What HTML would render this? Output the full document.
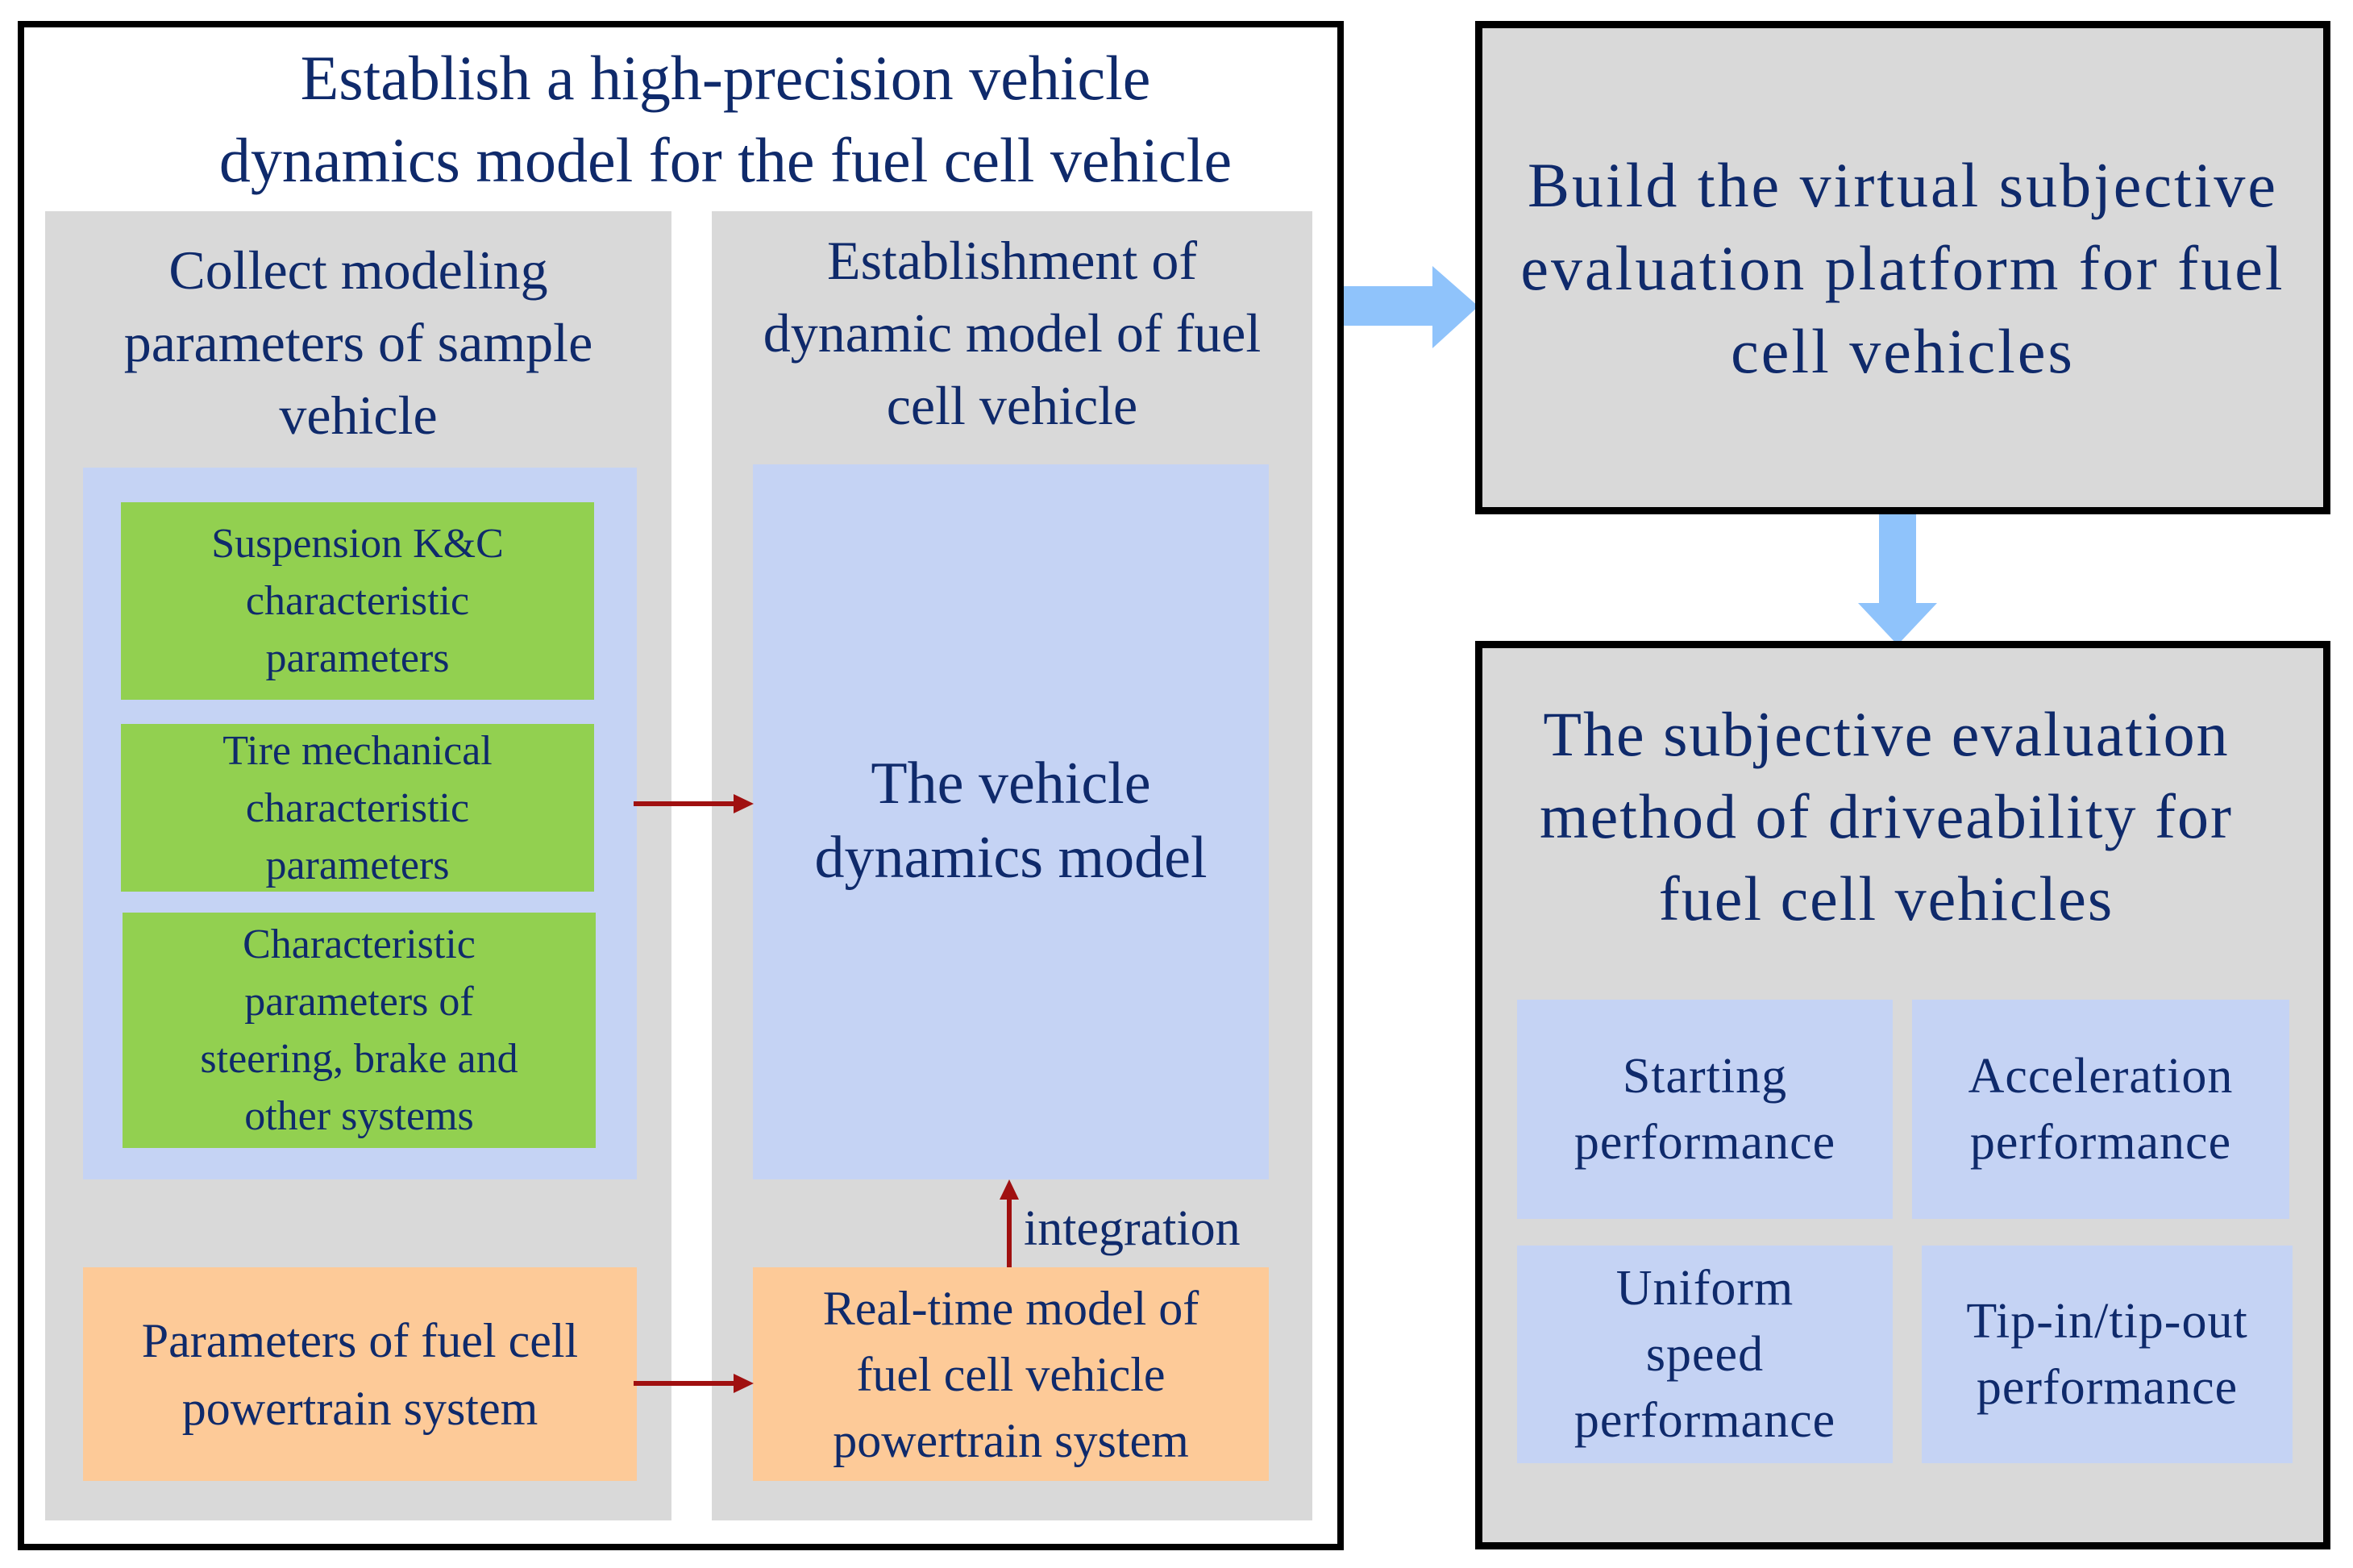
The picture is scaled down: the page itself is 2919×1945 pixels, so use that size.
<!DOCTYPE html>
<html><head><meta charset="utf-8"><style>
body{margin:0;width:2919px;height:1945px;background:#fff;position:relative;overflow:hidden;font-family:"Liberation Serif",serif;color:#0f2a6b}
.a{position:absolute;box-sizing:border-box}
.c{display:flex;align-items:center;justify-content:center;text-align:center}
.g{background:#d9d9d9}
.b{background:#c5d3f4}
.gr{background:#92d050}
.o{background:#fdca98}
.t{position:absolute;text-align:center;white-space:nowrap}
</style></head><body>
<div class="a" style="left:22px;top:26px;width:1645px;height:1897px;border:8px solid #000"></div>
<div class="t" style="left:100px;width:1600px;top:46px;font-size:78px;line-height:102px">Establish a high-precision vehicle<br>dynamics model for the fuel cell vehicle</div>
<div class="a g" style="left:56px;top:262px;width:777px;height:1624px"></div>
<div class="a g" style="left:883px;top:262px;width:745px;height:1624px"></div>
<div class="t" style="left:56px;width:777px;top:290px;font-size:68px;line-height:90px">Collect modeling<br>parameters of sample<br>vehicle</div>
<div class="t" style="left:883px;width:745px;top:278px;font-size:68px;line-height:90px">Establishment of<br>dynamic model of fuel<br>cell vehicle</div>
<div class="a b" style="left:103px;top:580px;width:687px;height:883px"></div>
<div class="a gr c" style="left:150px;top:623px;width:587px;height:245px;font-size:52px;line-height:71px">Suspension K&amp;C<br>characteristic<br>parameters</div>
<div class="a gr c" style="left:150px;top:898px;width:587px;height:208px;font-size:52px;line-height:71px">Tire mechanical<br>characteristic<br>parameters</div>
<div class="a gr c" style="left:152px;top:1132px;width:587px;height:292px;font-size:52px;line-height:71px">Characteristic<br>parameters of<br>steering, brake and<br>other systems</div>
<div class="a o c" style="left:103px;top:1572px;width:687px;height:265px;font-size:60px;line-height:84px">Parameters of fuel cell<br>powertrain system</div>
<div class="a b c" style="left:934px;top:576px;width:640px;height:887px;font-size:74px;line-height:92px;padding-bottom:4px">The vehicle<br>dynamics model</div>
<div class="a o c" style="left:934px;top:1572px;width:640px;height:265px;font-size:60px;line-height:82px">Real-time model of<br>fuel cell vehicle<br>powertrain system</div>
<div class="t" style="left:1270px;top:1484px;font-size:62px;line-height:80px">integration</div>
<svg class="a" style="left:0;top:0" width="2919" height="1945">
<g stroke="#a01010" stroke-width="6" fill="#a01010">
<line x1="786" y1="997" x2="915" y2="997"/><polygon points="935,997 910,985 910,1009" stroke="none"/>
<line x1="786" y1="1716" x2="915" y2="1716"/><polygon points="935,1716 910,1704 910,1728" stroke="none"/>
<line x1="1252" y1="1572" x2="1252" y2="1482"/><polygon points="1252,1463 1240,1488 1264,1488" stroke="none"/>
</g>
<polygon fill="#8fc3fb" points="1667,355 1777,355 1777,330 1834,380 1777,432 1777,404 1667,404"/>
<polygon fill="#8fc3fb" points="2331,623 2377,623 2377,748 2403,748 2354,800 2305,748 2331,748"/>
</svg>
<div class="a g c" style="left:1830px;top:26px;width:1061px;height:612px;border:9px solid #000;font-size:78px;line-height:103px;letter-spacing:3px;padding-bottom:0px">Build the virtual subjective<br>evaluation platform for fuel<br>cell vehicles</div>
<div class="a g" style="left:1830px;top:795px;width:1061px;height:1127px;border:9px solid #000"></div>
<div class="t" style="left:1830px;width:1020px;top:860px;font-size:78px;line-height:102px;letter-spacing:2px">The subjective evaluation<br>method of driveability for<br>fuel cell vehicles</div>
<div class="a b c" style="left:1882px;top:1240px;width:466px;height:272px;font-size:62px;line-height:82px;letter-spacing:1px">Starting<br>performance</div>
<div class="a b c" style="left:2372px;top:1240px;width:468px;height:272px;font-size:62px;line-height:82px;letter-spacing:1px">Acceleration<br>performance</div>
<div class="a b c" style="left:1882px;top:1545px;width:466px;height:270px;font-size:62px;line-height:82px;letter-spacing:1px">Uniform<br>speed<br>performance</div>
<div class="a b c" style="left:2384px;top:1545px;width:460px;height:270px;font-size:62px;line-height:82px;letter-spacing:1px">Tip-in/tip-out<br>performance</div>
</body></html>
